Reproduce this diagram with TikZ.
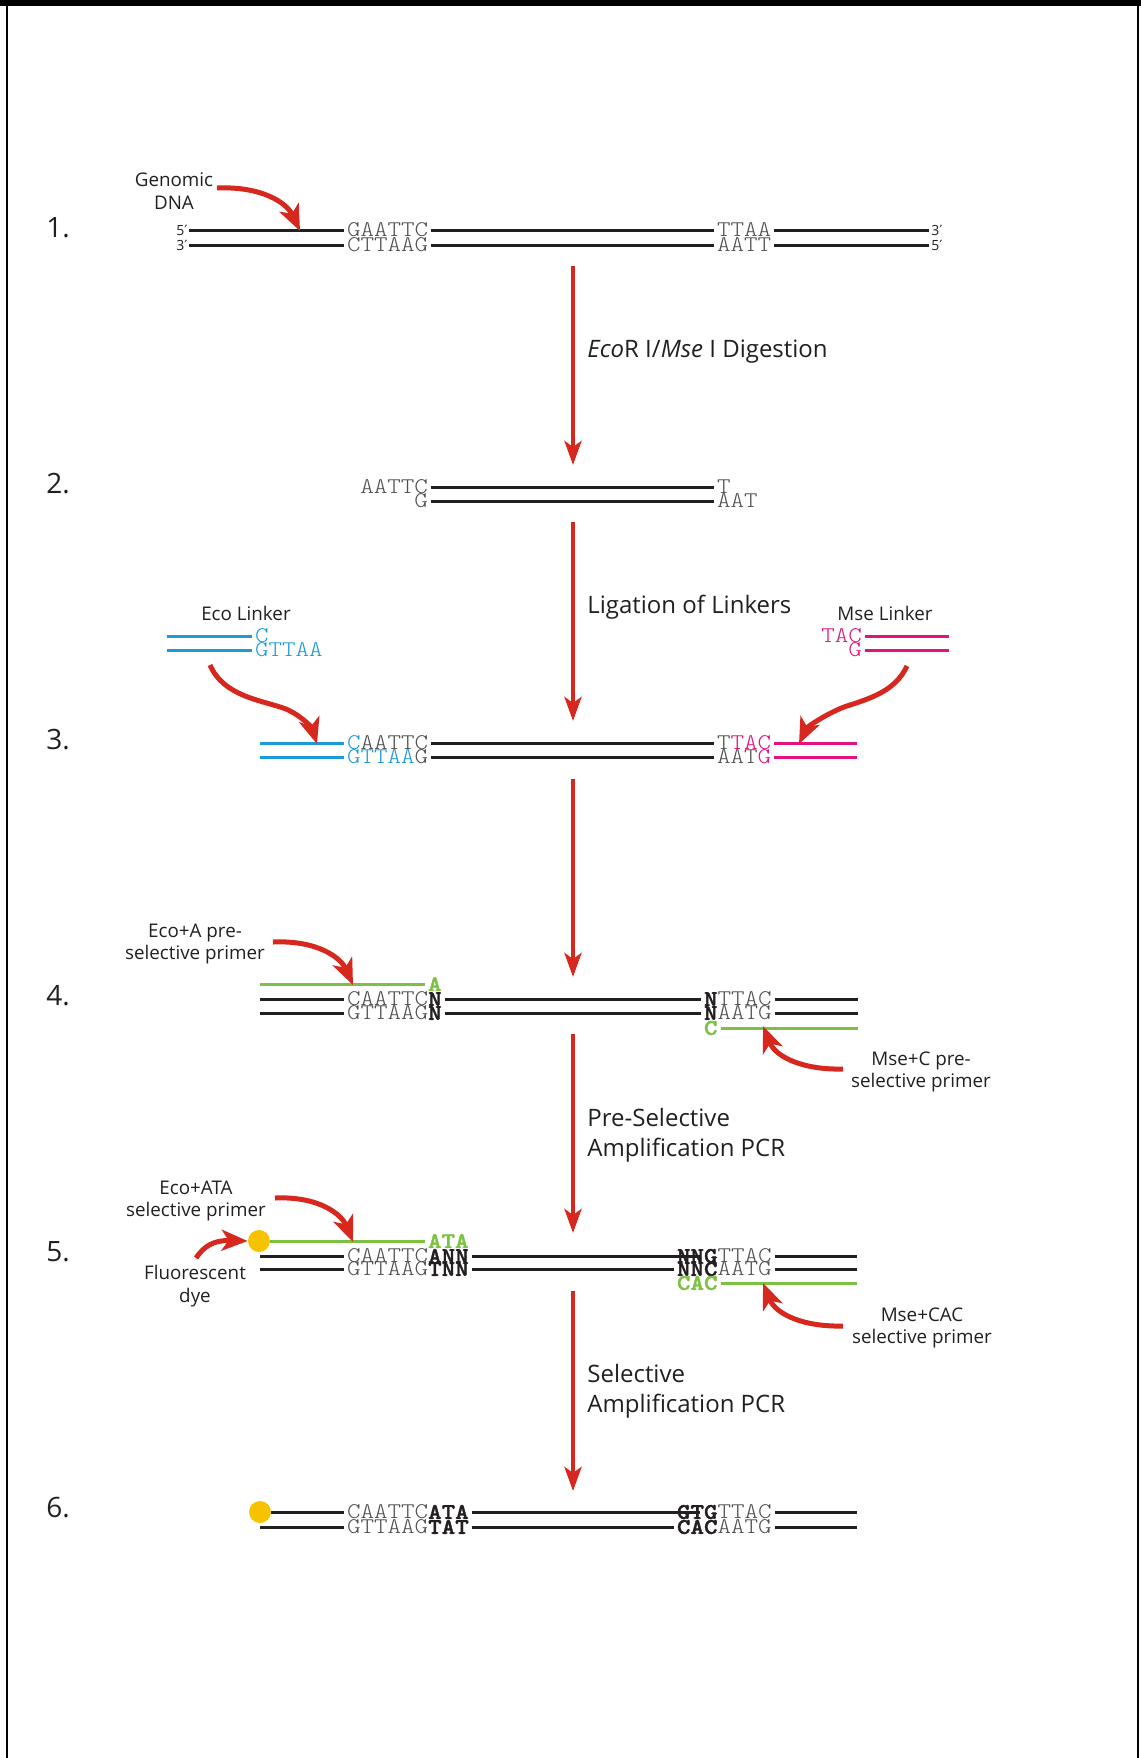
\documentclass[tikz,border=0pt]{standalone}
\usepackage{fontspec}
\setmainfont{Open Sans}
\newfontfamily\seqfamily{lmmonolt10-regular.otf}[BoldFont=lmmonolt10-bold.otf,
  FakeStretch=1.15,BoldFeatures={FakeBold=1.6}]
\newfontfamily\symfamily{DejaVu Sans}
\usetikzlibrary{arrows.meta}

\definecolor{ink}{HTML}{231F20}
\definecolor{seqgray}{HTML}{505050}
\definecolor{arrowred}{HTML}{D6281F}
\definecolor{ecoblue}{HTML}{1B9AD8}
\definecolor{msepink}{HTML}{E3127F}
\definecolor{primergreen}{HTML}{7CC142}
\definecolor{dyeyellow}{HTML}{F7C200}

\newcommand{\basebold}[1]{\textbf{\color{ink}#1}}
\newcommand{\greenbold}[1]{\textbf{\color{primergreen}#1}}
\newcommand{\ecobase}[1]{{\color{ecoblue}#1}}
\newcommand{\msebase}[1]{{\color{msepink}#1}}
\newcommand{\primemark}{{\symfamily\char"2032}}

\begin{document}
\begin{tikzpicture}[x=0.5pt,y=-0.5pt,
  strand/.style={line width=1.5pt,color=ink},
  ecostrand/.style={line width=1.5pt,color=ecoblue},
  msestrand/.style={line width=1.5pt,color=msepink},
  primer/.style={line width=1.5pt,color=primergreen},
  seq/.style={font=\seqfamily\fontsize{11.2pt}{12pt}\selectfont,text=seqgray,
    inner xsep=1.5pt,inner ysep=0pt,outer sep=0pt},
  lab/.style={font=\fontsize{9.4pt}{11.3pt}\selectfont,text=ink,align=center,inner sep=0pt},
  big/.style={font=\fontsize{12pt}{15pt}\selectfont,text=ink,align=left,anchor=west,inner sep=0pt},
  num/.style={font=\fontsize{14pt}{16pt}\selectfont,text=ink,anchor=west,inner sep=0pt},
  endmark/.style={font=\fontsize{7pt}{8pt}\selectfont,text=ink,inner sep=0pt},
  mainarrow/.style={draw=arrowred,line width=2.2pt,
    -{Stealth[length=12pt,width=8.5pt,inset=3pt]}},
  pointer/.style={draw=arrowred,line width=2.5pt,
    -{Stealth[length=13pt,width=10.5pt,inset=3.5pt]}},
  dye/.style={circle,fill=dyeyellow,inner sep=0pt,minimum size=11pt}]

\useasboundingbox (0,0) rectangle (1141,1758);

% page frame
\fill[black] (0,0) rectangle (1141,6);
\draw[line width=1pt] (7,0) -- (7,1758);
\draw[line width=1pt] (1138,0) -- (1138,1758);

% step numbers
\node[num] (n1) at (46,228) {1.};
\node[num] (n2) at (46,484) {2.};
\node[num] (n3) at (46,740) {3.};
\node[num] (n4) at (46,996) {4.};
\node[num] (n5) at (46,1252) {5.};
\node[num] (n6) at (46,1508) {6.};

% ---------- 1. genomic DNA ----------
\coordinate (g1l) at (189,230);  \coordinate (g1r) at (929,230);
\coordinate (g2l) at (189,245);  \coordinate (g2r) at (929,245);
\node[seq,anchor=west] (s1a) at (344,230) {GAATTC};
\node[seq,anchor=west] (s1b) at (714,230) {TTAA};
\node[seq,anchor=west] (s1c) at (344,245) {CTTAAG};
\node[seq,anchor=west] (s1d) at (714,245) {AATT};
\draw[strand] (g1l) -- (s1a.west);
\draw[strand] (s1a.east) -- (s1b.west);
\draw[strand] (s1b.east) -- (g1r);
\draw[strand] (g2l) -- (s1c.west);
\draw[strand] (s1c.east) -- (s1d.west);
\draw[strand] (s1d.east) -- (g2r);
\node[endmark,anchor=east] (e5l) at (188,230) {5\primemark};
\node[endmark,anchor=east] (e3l) at (188,245) {3\primemark};
\node[endmark,anchor=west] (e3r) at (931,230) {3\primemark};
\node[endmark,anchor=west] (e5r) at (931,245) {5\primemark};

\node[lab] (genomic) at (174,191) {Genomic\\DNA};
\coordinate (gstart) at (217,188);
\coordinate (gtip) at (300,231);
\draw[pointer] (gstart) .. controls (262,186) and (287,203) .. (gtip);

% arrow 1 -> 2
\coordinate (a1s) at (573,266); \coordinate (a1e) at (573,465);
\draw[mainarrow] (a1s) -- (a1e);
\node[big] (t1) at (587,352) {\textit{Eco}R I/\textit{Mse} I Digestion};

% ---------- 2. digested fragment ----------
\node[seq,anchor=east] (s2a) at (431,487) {AATTC};
\node[seq,anchor=west] (s2b) at (714,487) {T};
\node[seq,anchor=east] (s2c) at (431,501) {G};
\node[seq,anchor=west] (s2d) at (714,501) {AAT};
\draw[strand] (s2a.east) -- (s2b.west);
\draw[strand] (s2c.east) -- (s2d.west);

% arrow 2 -> 3
\coordinate (a2s) at (573,522); \coordinate (a2e) at (573,721);
\draw[mainarrow] (a2s) -- (a2e);
\node[big] (t2) at (587,607) {Ligation of Linkers};

% ---------- 3. linkers ----------
\node[lab] (ecolab) at (246,613) {Eco Linker};
\coordinate (el1) at (167,636); \coordinate (el2) at (167,650);
\node[seq,anchor=west,text=ecoblue] (le1) at (252,636) {C};
\node[seq,anchor=west,text=ecoblue] (le2) at (252,650) {GTTAA};
\draw[ecostrand] (el1) -- (le1.west);
\draw[ecostrand] (el2) -- (le2.west);

\node[lab] (mselab) at (885,613) {Mse Linker};
\coordinate (ml1) at (949,636); \coordinate (ml2) at (949,650);
\node[seq,anchor=east,text=msepink] (lm1) at (865,636) {TAC};
\node[seq,anchor=east,text=msepink] (lm2) at (865,650) {G};
\draw[msestrand] (lm1.east) -- (ml1);
\draw[msestrand] (lm2.east) -- (ml2);

\coordinate (b1l) at (260,743); \coordinate (b1r) at (857,743);
\coordinate (b2l) at (260,757); \coordinate (b2r) at (857,757);
\node[seq,anchor=west] (s3a) at (344,743) {\ecobase{C}AATTC};
\node[seq,anchor=west] (s3b) at (714,743) {T\msebase{TAC}};
\node[seq,anchor=west] (s3c) at (344,757) {\ecobase{GTTAA}G};
\node[seq,anchor=west] (s3d) at (714,757) {AAT\msebase{G}};
\draw[ecostrand] (b1l) -- (s3a.west);
\draw[strand] (s3a.east) -- (s3b.west);
\draw[msestrand] (s3b.east) -- (b1r);
\draw[ecostrand] (b2l) -- (s3c.west);
\draw[strand] (s3c.east) -- (s3d.west);
\draw[msestrand] (s3d.east) -- (b2r);

\coordinate (ecostart) at (210,665);
\coordinate (ecotip) at (317,744);
\draw[pointer] (ecostart) .. controls (224,697) and (262,700) .. (286,709)
  .. controls (302,716) and (312,728) .. (ecotip);
\coordinate (msestart) at (907,666);
\coordinate (msetip) at (799,744);
\draw[pointer] (msestart) .. controls (895,692) and (868,699) .. (844,707)
  .. controls (826,714) and (807,727) .. (msetip);

% arrow 3 -> 4
\coordinate (a3s) at (573,779); \coordinate (a3e) at (573,977);
\draw[mainarrow] (a3s) -- (a3e);

% ---------- 4. pre-selective primers ----------
\coordinate (p4l) at (260,984);
\node[seq,anchor=west] (s4p) at (425,984) {\greenbold{A}};
\draw[primer] (p4l) -- (s4p.west);

\coordinate (c1l) at (260,999); \coordinate (c1r) at (858,999);
\coordinate (c2l) at (260,1013); \coordinate (c2r) at (858,1013);
\node[seq,anchor=west] (s4a) at (344,999) {CAATTC\basebold{N}};
\node[seq,anchor=west] (s4b) at (701,999) {\basebold{N}TTAC};
\node[seq,anchor=west] (s4c) at (344,1013) {GTTAAG\basebold{N}};
\node[seq,anchor=west] (s4d) at (701,1013) {\basebold{N}AATG};
\draw[strand] (c1l) -- (s4a.west);
\draw[strand] (s4a.east) -- (s4b.west);
\draw[strand] (s4b.east) -- (c1r);
\draw[strand] (c2l) -- (s4c.west);
\draw[strand] (s4c.east) -- (s4d.west);
\draw[strand] (s4d.east) -- (c2r);

\coordinate (p4r) at (858,1028);
\node[seq,anchor=west] (s4q) at (701,1028) {\greenbold{C}};
\draw[primer] (s4q.east) -- (p4r);

\node[lab] (ecoA) at (195,944) {Eco+A pre-\\selective primer};
\coordinate (eAstart) at (273,942);
\coordinate (eAtip) at (353,985);
\draw[pointer] (eAstart) .. controls (318,940) and (341,958) .. (eAtip);

\node[lab] (mseC) at (921,1072) {Mse+C pre-\\selective primer};
\coordinate (mCstart) at (843,1069);
\coordinate (mCtip) at (763,1026);
\draw[pointer] (mCstart) .. controls (805,1070) and (776,1058) .. (mCtip);

% arrow 4 -> 5
\coordinate (a4s) at (573,1034); \coordinate (a4e) at (573,1233);
\draw[mainarrow] (a4s) -- (a4e);
\node[big] (t4) at (587,1135) {Pre-Selective\\Amplification PCR};

% ---------- 5. selective primers ----------
\node[dye] (dot5) at (259,1241) {};
\node[seq,anchor=west] (s5p) at (425,1241) {\greenbold{ATA}};
\draw[primer] (dot5.east) -- (s5p.west);

\coordinate (d1l) at (260,1256); \coordinate (d1m) at (700,1256); \coordinate (d1r) at (857,1256);
\coordinate (d2l) at (260,1269); \coordinate (d2r) at (857,1269);
\node[seq,anchor=west] (s5a) at (344,1256) {CAATTC\basebold{ANN}};
\node[seq,anchor=west] (s5b) at (674,1256) {\basebold{NNG}TTAC};
\node[seq,anchor=west] (s5c) at (344,1269) {GTTAAG\basebold{TNN}};
\node[seq,anchor=west] (s5d) at (674,1269) {\basebold{NNC}AATG};
\draw[strand] (d1l) -- (s5a.west);
\draw[strand] (s5a.east) -- (d1m);
\draw[strand] (s5b.east) -- (d1r);
\draw[strand] (d2l) -- (s5c.west);
\draw[strand] (s5c.east) -- (s5d.west);
\draw[strand] (s5d.east) -- (d2r);

\coordinate (p5r) at (857,1283);
\node[seq,anchor=west] (s5q) at (674,1283) {\greenbold{CAC}};
\draw[primer] (s5q.east) -- (p5r);

\node[lab] (ecoATA) at (196,1201) {Eco+ATA\\selective primer};
\coordinate (eATAstart) at (275,1198);
\coordinate (eATAtip) at (353,1242);
\draw[pointer] (eATAstart) .. controls (320,1196) and (342,1215) .. (eATAtip);

\node[lab] (fluor) at (195,1286) {Fluorescent\\dye};
\coordinate (fstart) at (196,1258);
\draw[pointer] (fstart) .. controls (204,1246) and (214,1240) .. (dot5.west);

\node[lab] (mseCAC) at (922,1328) {Mse+CAC\\selective primer};
\coordinate (mCACstart) at (843,1326);
\coordinate (mCACtip) at (763,1283);
\draw[pointer] (mCACstart) .. controls (805,1327) and (776,1315) .. (mCACtip);

% arrow 5 -> 6
\coordinate (a5s) at (573,1291); \coordinate (a5e) at (573,1491);
\draw[mainarrow] (a5s) -- (a5e);
\node[big] (t5) at (587,1391) {Selective\\Amplification PCR};

% ---------- 6. amplified fragment ----------
\node[dye] (dot6) at (260,1512) {};
\coordinate (f1m) at (700,1512); \coordinate (f1r) at (857,1512);
\coordinate (f2l) at (260,1527); \coordinate (f2r) at (857,1527);
\node[seq,anchor=west] (s6a) at (344,1512) {CAATTC\basebold{ATA}};
\node[seq,anchor=west] (s6b) at (674,1512) {\basebold{GTG}TTAC};
\node[seq,anchor=west] (s6c) at (344,1527) {GTTAAG\basebold{TAT}};
\node[seq,anchor=west] (s6d) at (674,1527) {\basebold{CAC}AATG};
\draw[strand] (dot6.east) -- (s6a.west);
\draw[strand] (s6a.east) -- (f1m);
\draw[strand] (s6b.east) -- (f1r);
\draw[strand] (f2l) -- (s6c.west);
\draw[strand] (s6c.east) -- (s6d.west);
\draw[strand] (s6d.east) -- (f2r);

\end{tikzpicture}
\end{document}
